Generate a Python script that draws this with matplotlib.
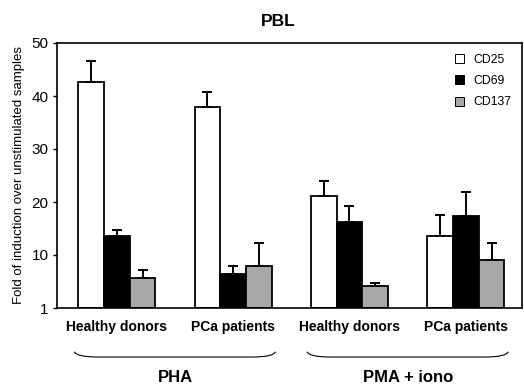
import matplotlib.pyplot as plt
import numpy as np
from matplotlib.path import Path
from matplotlib.patches import PathPatch
import matplotlib.transforms as mtransforms

plt.rcParams['font.family'] = ['Liberation Sans', 'DejaVu Sans']

groups = ["Healthy donors", "PCa patients", "Healthy donors", "PCa patients"]
series = ["CD25", "CD69", "CD137"]
cd25 = [42.6, 37.9, 21.1, 13.5]
cd69 = [13.5, 6.4, 16.2, 17.3]
cd137 = [5.7, 7.9, 4.1, 9.1]
cd25_err = [4.0, 2.8, 2.9, 4.1]
cd69_err = [1.3, 1.6, 3.1, 4.6]
cd137_err = [1.5, 4.3, 0.7, 3.1]
stimuli = ["PHA", "PMA + iono"]
yticks = [0, 10, 20, 30, 40, 50]
ytick_labels = ["1", "10", "20", "30", "40", "50"]

fig = plt.figure(figsize=(5.24, 3.85), dpi=100)
ax = fig.add_axes([57/524, 1-308/385, 465/524, 265/385])

x = np.arange(len(groups))
w = 0.221
colors = ["white", "black", "#a8a8a8"]
vals = [cd25, cd69, cd137]
errs = [cd25_err, cd69_err, cd137_err]
for i in range(3):
    ax.bar(x + (i-1)*w, vals[i], w, color=colors[i], edgecolor="black",
           linewidth=1.3, label=series[i],
           yerr=[np.zeros(4), errs[i]],
           error_kw=dict(ecolor="black", elinewidth=1.4, capsize=3.5, capthick=1.4))

ax.set_xlim(-0.514, 3.483)
ax.set_ylim(0, 50)
ax.set_yticks(yticks)
ax.set_yticklabels(ytick_labels, fontsize=11)
ax.set_xticks(x)
ax.set_xticklabels(groups, fontsize=10, fontweight="bold")
ax.tick_params(axis="x", length=0, pad=9)
ax.tick_params(axis="y", length=3, width=1, direction="out", pad=3)
for s in ax.spines.values():
    s.set_linewidth(1.2)
ax.set_ylabel("Fold of induction over unstimulated samples", fontsize=9.5, labelpad=5)
ax.text(0.475, 1.0 + 22/265, "PBL", transform=ax.transAxes, ha="center", va="center",
        fontsize=12.5, fontweight="bold")

leg = ax.legend(loc="upper right", frameon=False, fontsize=8.8, handlelength=0.75,
                handleheight=0.75, labelspacing=0.75, borderaxespad=0.5, handletextpad=0.7)
for h in leg.legend_handles:
    h.set_linewidth(0.7)

# braces under the groups
trans = mtransforms.blended_transform_factory(ax.transData, ax.transAxes)
for k, lab in enumerate(stimuli):
    c = 0.5 + 2*k
    a, b = c - 0.865, c + 0.865
    top, mid = -0.165, -0.185
    verts = [(a, top), (a + 0.02, mid), (a + 0.2, mid),
             (b - 0.2, mid),
             (b - 0.02, mid), (b, top)]
    codes = [Path.MOVETO, Path.CURVE3, Path.CURVE3, Path.LINETO, Path.CURVE3, Path.CURVE3]
    ax.add_patch(PathPatch(Path(verts, codes), fill=False, lw=0.8, color="black",
                           transform=trans, clip_on=False))
    ax.text(c, -0.262, lab, transform=trans, ha="center", va="center",
            fontsize=12, fontweight="bold")

fig.savefig("out.png", dpi=100)
